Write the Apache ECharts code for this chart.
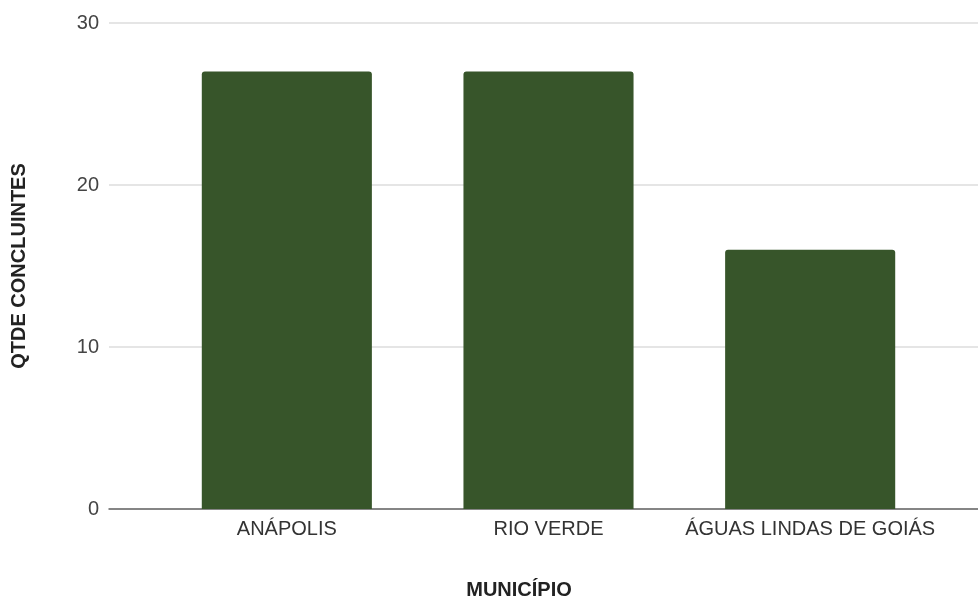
<!DOCTYPE html>
<html>
<head>
<meta charset="utf-8">
<script src="https://cdn.jsdelivr.net/npm/echarts@6/dist/echarts.min.js"></script>
<style>
  html, body { margin: 0; padding: 0; background: #ffffff; }
  #chart { width: 978px; height: 599px; }
</style>
</head>
<body>
<div id="chart"></div>
<script>
// Concluintes por município
const municipios = ['ANÁPOLIS', 'RIO VERDE', 'ÁGUAS LINDAS DE GOIÁS'];
const concluintes = [27, 27, 16];
const yTicks = [0, 10, 20, 30];

const FONT = '"Liberation Sans", Arial, sans-serif';
const chart = echarts.init(document.getElementById('chart'));

chart.setOption({
  animation: false,
  backgroundColor: '#ffffff',
  grid: [
    // frame: gridlines and baseline across the full width
    { left: 109, right: 0, top: 23, bottom: 90, containLabel: false, outerBoundsMode: 'none' },
    // bars: three category bands
    { left: 156, right: 37, top: 23, bottom: 90, containLabel: false, outerBoundsMode: 'none' }
  ],
  xAxis: [
    {
      gridIndex: 0, type: 'value', min: 0, max: 1,
      axisLine: { show: true, onZero: false, lineStyle: { color: '#666666', width: 1.5 } },
      axisTick: { show: false }, axisLabel: { show: false }, splitLine: { show: false }
    },
    {
      gridIndex: 1, type: 'category', data: municipios,
      axisLine: { show: false }, axisTick: { show: false },
      axisLabel: { color: '#333333', fontSize: 20, fontFamily: FONT, margin: 10, interval: 0 }
    }
  ],
  yAxis: [
    {
      gridIndex: 0, type: 'value',
      min: yTicks[0], max: yTicks[yTicks.length - 1], interval: 10,
      name: 'QTDE CONCLUINTES', nameLocation: 'middle', nameGap: 80,
      nameTextStyle: { color: '#222222', fontSize: 20, fontWeight: 'bold', fontFamily: FONT },
      axisLine: { show: false }, axisTick: { show: false },
      axisLabel: { color: '#444444', fontSize: 20, fontFamily: FONT, margin: 10 },
      splitLine: { lineStyle: { color: '#dddddd', width: 1.5 } }
    },
    {
      gridIndex: 1, type: 'value',
      min: yTicks[0], max: yTicks[yTicks.length - 1], interval: 10,
      show: false, splitLine: { show: false }
    }
  ],
  graphic: [
    {
      type: 'text', x: 519, y: 590,
      style: {
        text: 'MUNICÍPIO', fill: '#222222',
        font: 'bold 20px ' + FONT, align: 'center', verticalAlign: 'middle'
      }
    }
  ],
  series: [
    {
      type: 'bar', xAxisIndex: 1, yAxisIndex: 1,
      data: concluintes, barWidth: '65%',
      itemStyle: { color: '#37552a', borderRadius: [3, 3, 0, 0] }
    }
  ]
});
</script>
</body>
</html>
